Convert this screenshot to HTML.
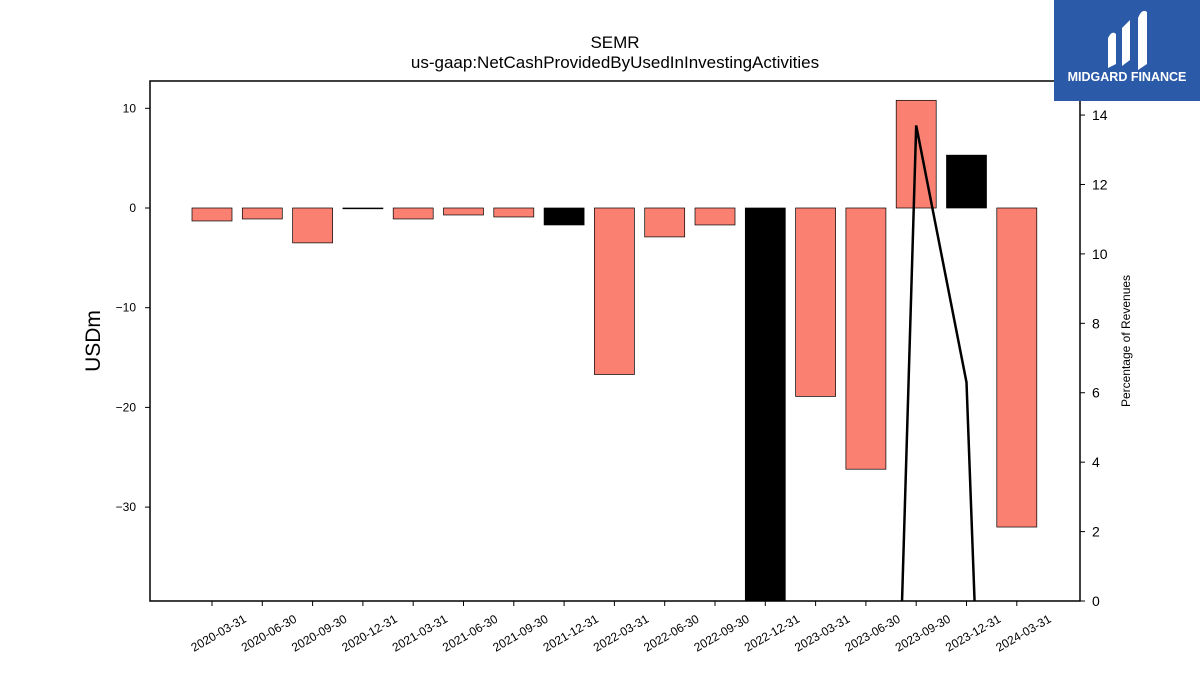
<!DOCTYPE html>
<html><head><meta charset="utf-8"><style>
html,body{margin:0;background:#fff;width:1200px;height:675px;overflow:hidden;font-family:"Liberation Sans","DejaVu Sans",sans-serif}
svg{display:block}
</style></head><body>
<svg id="c" width="1200" height="675" xmlns="http://www.w3.org/2000/svg">
<defs><clipPath id="pc"><rect x="150" y="81" width="930" height="520"/></clipPath></defs>
<text x="615" y="48" text-anchor="middle" font-size="17">SEMR</text>
<text x="615" y="68" text-anchor="middle" font-size="17">us-gaap:NetCashProvidedByUsedInInvestingActivities</text>
<g id="bars" clip-path="url(#pc)"></g>
<g id="line" clip-path="url(#pc)"></g>
<rect x="150" y="81" width="930" height="520" fill="none" stroke="#000" stroke-width="1.5"/>
<g id="axes"></g>
<text transform="translate(100,341) rotate(-90)" text-anchor="middle" font-size="21">USDm</text>
<text transform="translate(1130,341) rotate(-90)" text-anchor="middle" font-size="12">Percentage of Revenues</text>
<g>
<rect x="1054" y="0" width="146" height="101" fill="#2b5aa9"/>
<path d="M1108 68 L1108 38 Q1112 30 1116 34 L1116 64 Z M1122 66 L1122 28 L1130 20 L1130 60 Z M1138 70 L1138 18 Q1142 8 1147 12 L1147 64 Z" fill="#fff"/>
<text x="1127" y="81" text-anchor="middle" font-size="12.5" font-weight="bold" fill="#fff">MIDGARD FINANCE</text>
</g>
</svg>
<script>
const categories=["2020-03-31","2020-06-30","2020-09-30","2020-12-31","2021-03-31","2021-06-30","2021-09-30","2021-12-31","2022-03-31","2022-06-30","2022-09-30","2022-12-31","2023-03-31","2023-06-30","2023-09-30","2023-12-31","2024-03-31"];
const values=[-1.3,-1.1,-3.5,-0.05,-1.1,-0.7,-0.9,-1.7,-16.7,-2.9,-1.7,-45,-18.9,-26.2,10.8,5.3,-32.0];
const isAnnual=[0,0,0,1,0,0,0,1,0,0,0,1,0,0,0,1,0];
const pctValues=[null,null,null,null,null,null,null,null,null,null,null,null,null,-35,13.7,6.3,-33];
const yTicks=[10,0,-10,-20,-30];
const y2Ticks=[0,2,4,6,8,10,12,14];
const NS="http://www.w3.org/2000/svg";
const x=i=>212+i*50.3;
const y=v=>208-v*9.97;
const y2=v=>601-v*34.71;
function mk(t,a,p){const e=document.createElementNS(NS,t);for(const k in a)e.setAttribute(k,a[k]);p.appendChild(e);return e;}
const bars=document.getElementById('bars'),axes=document.getElementById('axes'),line=document.getElementById('line');
values.forEach((v,i)=>{
 const r=mk('rect',{x:x(i)-20,y:Math.min(y(v),y(0)),width:40,height:Math.max(Math.abs(y(v)-y(0)),0.8),fill:isAnnual[i]?'#000':'#fa8072',stroke:'#000','stroke-width':0.7},bars);
 
 
 const t=mk('line',{x1:x(i),x2:x(i),y1:601,y2:606,stroke:'#000'},axes);
 
 
 const l=mk('text',{transform:`translate(${x(i)+31},${614}) rotate(-30)`,'text-anchor':'end','font-size':12,dy:'0.7em'},axes);
 
 
 l.textContent=categories[i];
});
yTicks.forEach(v=>{
 mk('line',{x1:145,x2:150,y1:y(v),y2:y(v),stroke:'#000'},axes);
 const l=mk('text',{x:136,y:y(v)+4,'text-anchor':'end','font-size':12},axes);
 
 
 l.textContent=v<0?'\u2212'+(-v):v;
});
y2Ticks.forEach(v=>{
 mk('line',{x1:1080,x2:1085,y1:y2(v),y2:y2(v),stroke:'#000'},axes);
 const l=mk('text',{x:1092,y:y2(v)+5,'font-size':14},axes);
 
 
 l.textContent=v;
});
let d='',pen=false;
pctValues.forEach((v,i)=>{if(v===null){pen=false;return;}d+=(pen?'L':'M')+x(i)+' '+y2(v)+' ';pen=true;});
const p=mk('path',{d:d,fill:'none',stroke:'#000','stroke-width':2.5},line);


</script>
</body></html>
